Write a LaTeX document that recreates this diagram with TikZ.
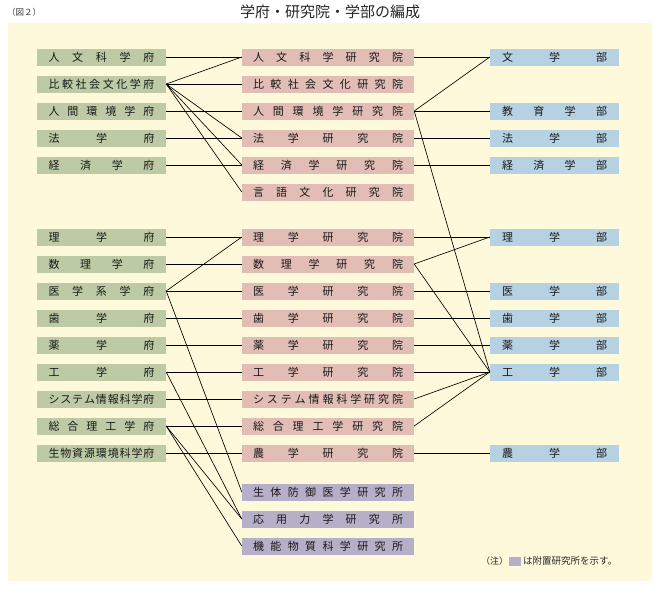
\documentclass[tikz,border=0pt]{standalone}
\usepackage{fontspec}
\setmainfont{Noto Sans CJK JP}
\definecolor{bgc}{RGB}{255,249,219}
\definecolor{gcol}{RGB}{188,203,165}
\definecolor{pcol}{RGB}{225,189,182}
\definecolor{bcol}{RGB}{181,209,226}
\definecolor{vcol}{RGB}{182,175,200}
\ExplSyntaxOn
\NewDocumentCommand\spreadit{mm}{
  \makebox[#1]{
    \seq_clear:N \l_tmpa_seq
    \tl_map_inline:nn {#2} { \seq_put_right:Nn \l_tmpa_seq {##1} }
    \seq_use:Nn \l_tmpa_seq {\hfill}
  }
}
\ExplSyntaxOff
\begin{document}
\begin{tikzpicture}[x=1pt,y=-1pt,
  lbox/.style={minimum height=17pt, inner sep=0pt, font=\fontsize{11}{12}\selectfont, text=black!90},
  fu/.style={lbox, fill=gcol, minimum width=129pt},
  ken/.style={lbox, fill=pcol, minimum width=172pt},
  fuz/.style={lbox, fill=vcol, minimum width=172pt},
  bu/.style={lbox, fill=bcol, minimum width=129pt},
  link/.style={draw=black, line width=0.65pt}]
\useasboundingbox (0,0) rectangle (660,590);
\fill[bgc] (8,23) rectangle (652,581);
\node[anchor=west, font=\fontsize{8.5}{9}\selectfont, inner sep=0pt, text=black!80] (fig) at (7,12) {（図２）};
\node[font=\fontsize{15}{16}\selectfont, text=black!85] (title) at (330,12) {学府・研究院・学部の編成};
% column 1
\node[fu] (f1) at (101.5,57) {\spreadit{106pt}{人文科学府}};
\node[fu] (f2) at (101.5,84) {\spreadit{106pt}{比較社会文化学府}};
\node[fu] (f3) at (101.5,111) {\spreadit{106pt}{人間環境学府}};
\node[fu] (f4) at (101.5,138) {\spreadit{106pt}{法学府}};
\node[fu] (f5) at (101.5,165) {\spreadit{106pt}{経済学府}};
\node[fu] (f6) at (101.5,237) {\spreadit{106pt}{理学府}};
\node[fu] (f7) at (101.5,264) {\spreadit{106pt}{数理学府}};
\node[fu] (f8) at (101.5,291) {\spreadit{106pt}{医学系学府}};
\node[fu] (f9) at (101.5,318) {\spreadit{106pt}{歯学府}};
\node[fu] (f10) at (101.5,345) {\spreadit{106pt}{薬学府}};
\node[fu] (f11) at (101.5,372) {\spreadit{106pt}{工学府}};
\node[fu] (f12) at (101.5,399) {\spreadit{106pt}{システム情報科学府}};
\node[fu] (f13) at (101.5,426) {\spreadit{106pt}{総合理工学府}};
\node[fu] (f14) at (101.5,453) {\spreadit{106pt}{生物資源環境科学府}};
% column 2
\node[ken] (r1) at (328,57) {\spreadit{150pt}{人文科学研究院}};
\node[ken] (r2) at (328,84) {\spreadit{150pt}{比較社会文化研究院}};
\node[ken] (r3) at (328,111) {\spreadit{150pt}{人間環境学研究院}};
\node[ken] (r4) at (328,138) {\spreadit{150pt}{法学研究院}};
\node[ken] (r5) at (328,165) {\spreadit{150pt}{経済学研究院}};
\node[ken] (r6) at (328,192) {\spreadit{150pt}{言語文化研究院}};
\node[ken] (r7) at (328,237) {\spreadit{150pt}{理学研究院}};
\node[ken] (r8) at (328,264) {\spreadit{150pt}{数理学研究院}};
\node[ken] (r9) at (328,291) {\spreadit{150pt}{医学研究院}};
\node[ken] (r10) at (328,318) {\spreadit{150pt}{歯学研究院}};
\node[ken] (r11) at (328,345) {\spreadit{150pt}{薬学研究院}};
\node[ken] (r12) at (328,372) {\spreadit{150pt}{工学研究院}};
\node[ken] (r13) at (328,399) {\spreadit{150pt}{システム情報科学研究院}};
\node[ken] (r14) at (328,426) {\spreadit{150pt}{総合理工学研究院}};
\node[ken] (r15) at (328,453) {\spreadit{150pt}{農学研究院}};
\node[fuz] (p1) at (328,492) {\spreadit{150pt}{生体防御医学研究所}};
\node[fuz] (p2) at (328,519) {\spreadit{150pt}{応用力学研究所}};
\node[fuz] (p3) at (328,546) {\spreadit{150pt}{機能物質科学研究所}};
% column 3
\node[bu] (d1) at (554.5,57) {\spreadit{105pt}{文学部}};
\node[bu] (d2) at (554.5,111) {\spreadit{105pt}{教育学部}};
\node[bu] (d3) at (554.5,138) {\spreadit{105pt}{法学部}};
\node[bu] (d4) at (554.5,165) {\spreadit{105pt}{経済学部}};
\node[bu] (d5) at (554.5,237) {\spreadit{105pt}{理学部}};
\node[bu] (d6) at (554.5,291) {\spreadit{105pt}{医学部}};
\node[bu] (d7) at (554.5,318) {\spreadit{105pt}{歯学部}};
\node[bu] (d8) at (554.5,345) {\spreadit{105pt}{薬学部}};
\node[bu] (d9) at (554.5,372) {\spreadit{105pt}{工学部}};
\node[bu] (d10) at (554.5,453) {\spreadit{105pt}{農学部}};
% links column 1 -> column 2
\foreach \a/\b in {f1/r1, f2/r1, f2/r2, f2/r4, f2/r5, f2/r6, f3/r3, f4/r4, f5/r5,
  f6/r7, f7/r8, f8/r7, f8/r9, f8/p1, f9/r10, f10/r11, f11/r12, f11/p2,
  f12/r13, f13/r14, f13/p2, f13/p3, f14/r15}
  \draw[link] (\a.east) -- (\b.west);
% links column 2 -> column 3
\foreach \a/\b in {r1/d1, r3/d1, r3/d2, r3/d9, r4/d3, r5/d4, r7/d5, r8/d5, r8/d9,
  r9/d6, r10/d7, r11/d8, r12/d9, r13/d9, r14/d9, r15/d10}
  \draw[link] (\a.east) -- (\b.west);
% note
\node[anchor=west, font=\fontsize{9}{10}\selectfont, inner sep=0pt, text=black!85] (n1) at (481,561) {（注）};
\node[fill=vcol, minimum width=12pt, minimum height=9.5pt, inner sep=0pt, anchor=west] (key) at (509,561.5) {};
\node[anchor=west, font=\fontsize{9.5}{10}\selectfont, inner sep=0pt, text=black!85] (n2) at (523,561) {は附置研究所を示す。};
\end{tikzpicture}
\end{document}
